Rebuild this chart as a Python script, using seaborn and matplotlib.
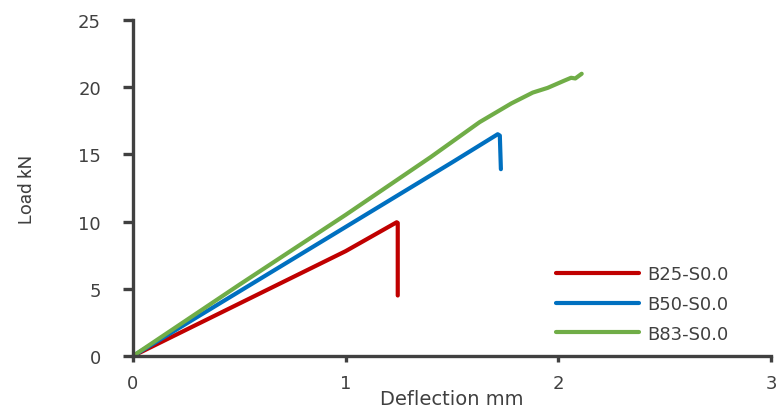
import matplotlib
matplotlib.use("Agg")
import matplotlib.pyplot as plt
from matplotlib import font_manager
import seaborn as sns
import pandas as pd

# Data
b25_x = [0.0, 0.5, 1.0, 1.24, 1.245, 1.245]
b25_y = [0.0, 3.9, 7.8, 9.95, 9.9, 4.5]

b50_x = [0.0, 0.5, 1.0, 1.5, 1.715, 1.725, 1.73]
b50_y = [0.0, 4.8, 9.6, 14.4, 16.5, 16.4, 13.9]

b83_x = [0.0, 0.5, 1.0, 1.4, 1.63, 1.78, 1.88, 1.95, 2.03, 2.06, 2.08, 2.11]
b83_y = [0.0, 5.3, 10.5, 14.8, 17.4, 18.8, 19.6, 19.95, 20.5, 20.7, 20.65, 21.0]

series_names = ["B25-S0.0", "B50-S0.0", "B83-S0.0"]
colors = ["#C00000", "#0070C0", "#70AD47"]

rows = []
for name, xs, ys in zip(series_names, [b25_x, b50_x, b83_x], [b25_y, b50_y, b83_y]):
    for i, (x, y) in enumerate(zip(xs, ys)):
        rows.append({"Deflection": x, "Load": y, "Series": name, "order": i})
df = pd.DataFrame(rows)

sns.set_style("white")
plt.rcParams["font.family"] = ["DejaVu Sans"]

# narrow font for the y label if available
names = {f.name for f in font_manager.fontManager.ttflist}
if "Liberation Sans Narrow" in names:
    ylab_family, ylab_size = "Liberation Sans Narrow", 15
else:
    ylab_family, ylab_size = "Roboto", 13.5

fig = plt.figure(figsize=(7.79, 4.10), dpi=100)
ax = fig.add_axes([0.1707, 0.1293, 0.819, 0.8195])

sns.lineplot(data=df, x="Deflection", y="Load", hue="Series", palette=colors,
             sort=False, estimator=None, linewidth=3.0, ax=ax)

ax.set_xlim(0, 3)
ax.set_ylim(0, 25)
ax.set_xticks([0, 1, 2, 3])
ax.set_yticks([0, 5, 10, 15, 20, 25])

for s in ["top", "right"]:
    ax.spines[s].set_visible(False)
for s in ["left", "bottom"]:
    ax.spines[s].set_color("#404040")
    ax.spines[s].set_linewidth(2.4)

ax.tick_params(axis="both", which="major", direction="out", width=2.4,
               color="#404040", labelsize=13, labelcolor="#404040",
               left=True, bottom=True)
ax.tick_params(axis="y", length=7, pad=16)
ax.tick_params(axis="x", length=4, pad=9)

ax.set_xlabel("Deflection mm", fontsize=14, color="#404040", labelpad=-2)
ax.set_ylabel("Load kN", fontsize=ylab_size, color="#404040", labelpad=30,
              family=[ylab_family, "DejaVu Sans"])

leg = ax.legend(loc="upper left", bbox_to_anchor=(0.663, 0.27), frameon=False,
                fontsize=13, handlelength=4.6, handletextpad=0.45,
                labelspacing=0.65, borderpad=0, borderaxespad=0)
for t in leg.get_texts():
    t.set_color("#404040")
for l in leg.get_lines():
    l.set_linewidth(3.0)

fig.savefig("out.png", dpi=100)
